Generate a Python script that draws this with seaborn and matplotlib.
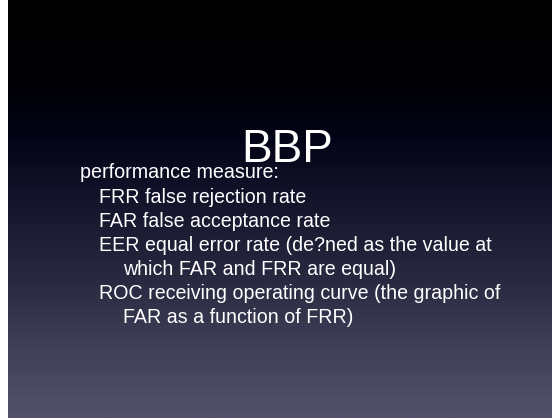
import numpy as np
import matplotlib
matplotlib.use("Agg")
import matplotlib.pyplot as plt
import seaborn as sns
from matplotlib.colors import LinearSegmentedColormap

sns.set_theme(style="white")
plt.rcParams['font.family'] = ['Liberation Sans', 'DejaVu Sans']

title = "BBP"
heading = "performance measure:"
items = [
    ("FRR false rejection rate", 1),
    ("FAR false acceptance rate", 1),
    ("EER equal error rate (de?ned as the value at", 1),
    ("which FAR and FRR are equal)", 2),
    ("ROC receiving operating curve (the graphic of", 1),
    ("FAR as a function of FRR)", 2),
]

W, H = 552, 418
fig = plt.figure(figsize=(W / 100, H / 100), dpi=100)
fig.patch.set_facecolor("white")
ax = fig.add_axes([0, 0, 1, 1])
ax.set_xlim(0, W)
ax.set_ylim(H, 0)
ax.axis("off")

stops = [(0.0, (0, 0, 0)), (0.2, (0, 0, 5)), (0.33, (4, 4, 24)),
         (0.5, (22, 22, 45)), (0.68, (42, 42, 66)), (0.82, (62, 62, 86)),
         (1.0, (82, 82, 106))]
cmap = LinearSegmentedColormap.from_list(
    "bg", [(p, tuple(c / 255 for c in col)) for p, col in stops])
grad = np.linspace(0, 1, 400).reshape(-1, 1)
ax.imshow(grad, cmap=cmap, aspect="auto", extent=(8, W, H, 0), vmin=0, vmax=1)

ax.text(287.5, 162, title, color="white", fontsize=33, ha="center", va="baseline")
ax.text(80, 178, heading, color="white", fontsize=14.2, ha="left", va="baseline")
indent = {1: 99, 2: 123}
y = 203
for txt, lvl in items:
    ax.text(indent[lvl], y, txt, color="white", fontsize=14.1, ha="left", va="baseline")
    y += 24

fig.savefig("out.png", dpi=100)
